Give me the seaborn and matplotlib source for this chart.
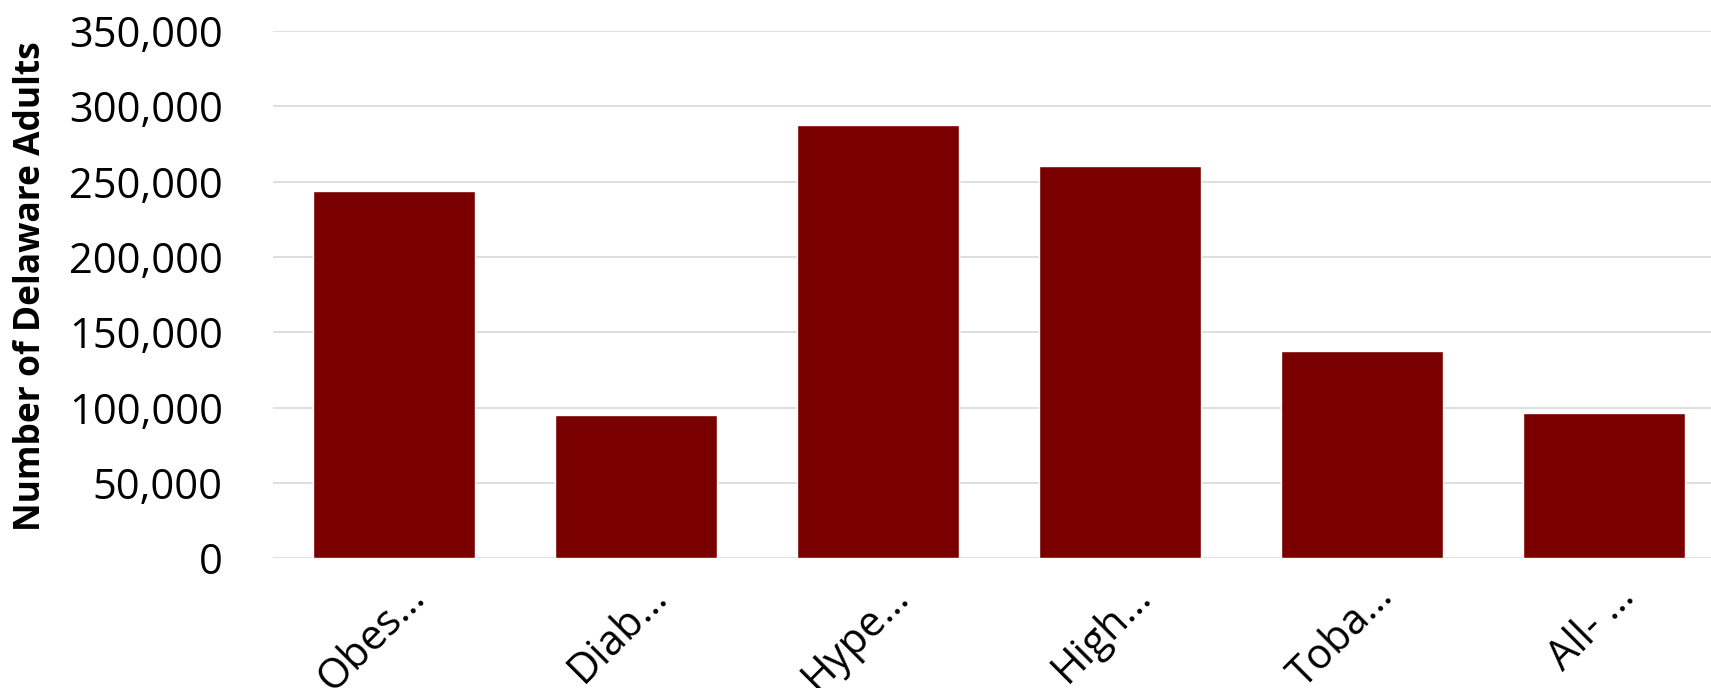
import matplotlib
matplotlib.use("Agg")
import matplotlib.pyplot as plt
import matplotlib.transforms as mtransforms
from matplotlib.ticker import FuncFormatter
import pandas as pd
import seaborn as sns

# values
conditions = ["Obes\u2026", "Diab\u2026", "Hype\u2026", "High\u2026", "Toba\u2026", "All- \u2026"]
adults = [243900, 95200, 287700, 260300, 137700, 96300]
y_ticks = [0, 50000, 100000, 150000, 200000, 250000, 300000, 350000]

sns.set_style("white")
plt.rcParams["font.family"] = ["Open Sans", "DejaVu Sans"]
plt.rcParams["text.color"] = "black"
plt.rcParams["xtick.color"] = "black"
plt.rcParams["ytick.color"] = "black"
plt.rcParams["axes.labelcolor"] = "black"

df = pd.DataFrame({"condition": conditions, "adults": adults})

fig = plt.figure(figsize=(17.11, 6.88), dpi=100)
ax = fig.add_axes([0.1594, 0.1885, 0.8486, 0.7664])

sns.barplot(data=df, x="condition", y="adults", color="#7A0000",
            saturation=1, width=0.67, ax=ax)

ax.set_xlim(-0.5, 5.5)
ax.set_ylim(0, 350000)
ax.set_yticks(y_ticks)
ax.yaxis.set_major_formatter(FuncFormatter(lambda v, p: f"{int(v):,}"))
ax.grid(axis="y", color="#D9D9D9", lw=1.2)
ax.set_axisbelow(True)
for s in ax.spines.values():
    s.set_visible(False)

ax.tick_params(axis="y", length=0, pad=36, labelsize=30, labelcolor="black")
ax.tick_params(axis="x", length=0, pad=0, labelsize=30, labelcolor="black")

ax.set_xticks(range(len(conditions)))
ax.set_xticklabels(conditions, rotation=45, ha="right", va="baseline",
                   rotation_mode="anchor")
offset = mtransforms.ScaledTranslation(0.33, -0.40, fig.dpi_scale_trans)
for lab in ax.get_xticklabels():
    lab.set_transform(lab.get_transform() + offset)

ax.set_xlabel("")
ax.set_ylabel("Number of Delaware Adults", fontsize=25.5, fontweight="bold",
              color="black")
ax.yaxis.label.set_va("center")
ax.yaxis.set_label_coords(31 / 1711, 1 - 286 / 688, transform=fig.transFigure)

fig.savefig("out.png", dpi=100)
